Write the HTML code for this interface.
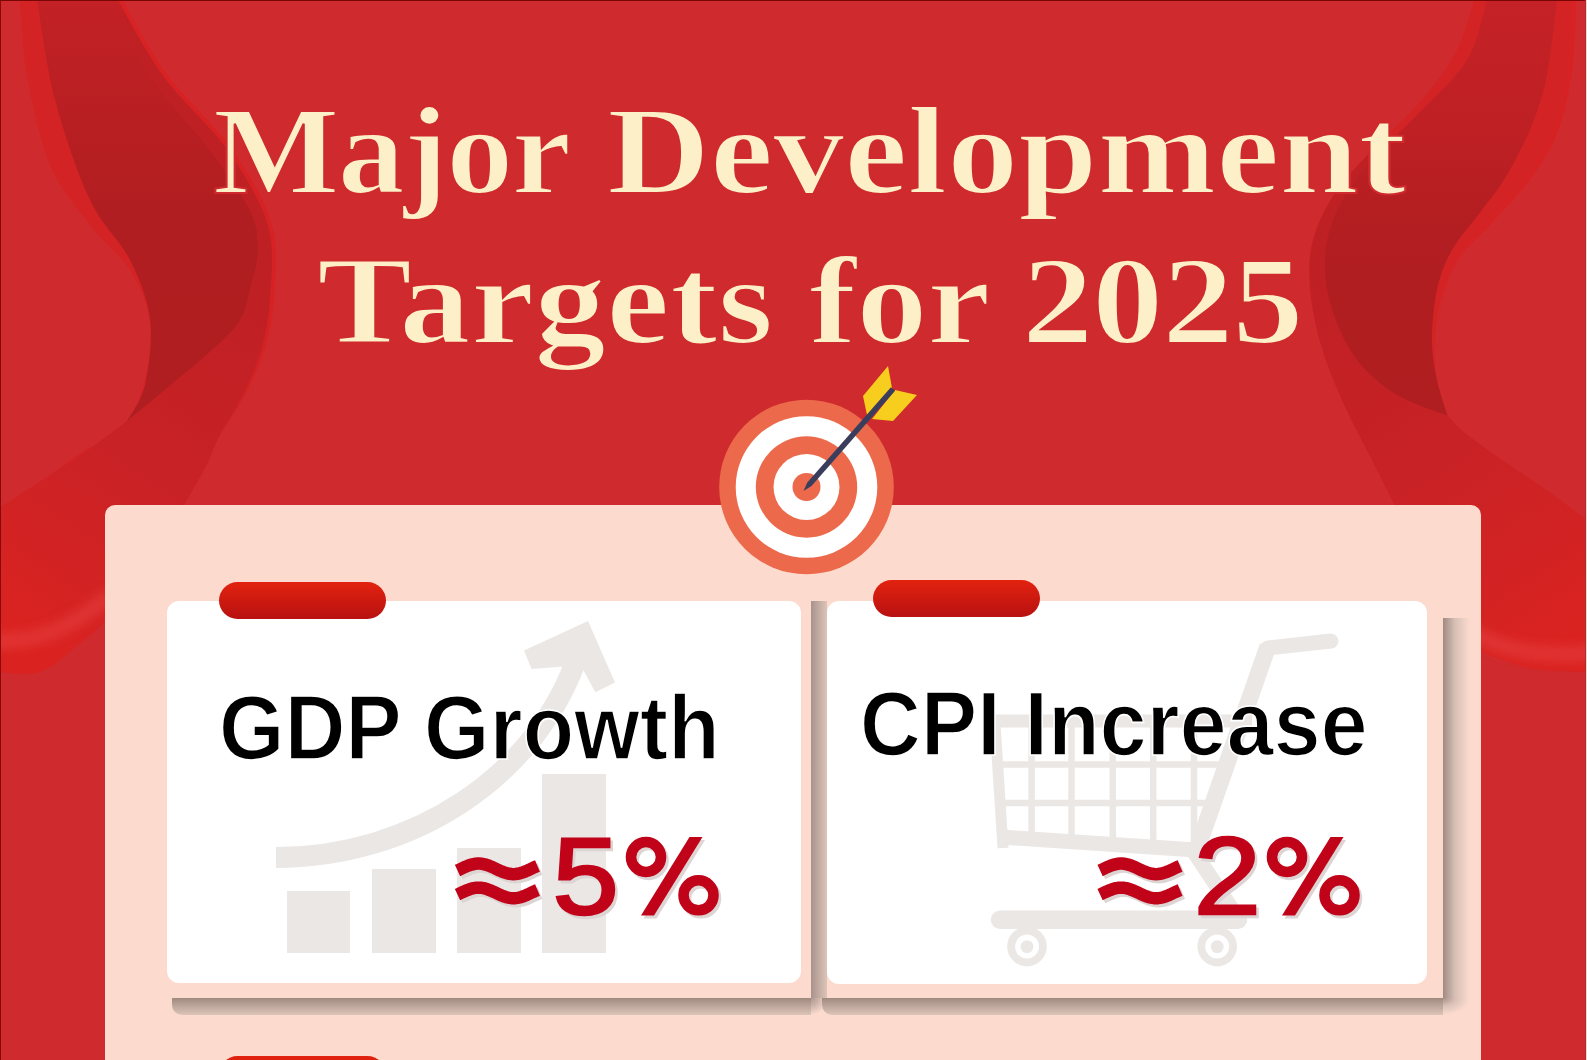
<!DOCTYPE html>
<html><head><meta charset="utf-8">
<style>
*{margin:0;padding:0;box-sizing:border-box}
html,body{width:1587px;height:1060px;overflow:hidden;background:#cf2a2d}
body{position:relative;font-family:"Liberation Sans",sans-serif}
.abs{position:absolute}
#bg{position:absolute;left:0;top:0}
.title{position:absolute;transform-origin:0 0;-webkit-text-stroke:2.0px #cf2a2d;white-space:nowrap;font-family:"Liberation Serif",serif;font-weight:bold;color:#fdf0c8;font-size:124.0px;letter-spacing:9.2px;line-height:1}
#panel{left:105px;top:505px;width:1376px;height:600px;background:#fcdbce;border-radius:10px}
.card{background:#fff;border-radius:12px}
.pill{border-radius:19px;background:linear-gradient(#e2220f,#b81111)}
.rs{background:linear-gradient(to right,#a8938b,#dcc4b8)}
.rs2{background:linear-gradient(to right,#a08a82,#d8c0b6 45%,#fcdbce)}
.bs{background:linear-gradient(#a08a80,#dcc4b8)}
.head{position:absolute;white-space:nowrap;font-weight:bold;font-size:84px;color:#000;letter-spacing:0.3px;-webkit-text-stroke:1.5px #fff;transform:scaleY(1.07);transform-origin:0 0;line-height:1}
.val{position:absolute;white-space:nowrap;font-weight:bold;font-size:106px;color:#b5121b;line-height:1;text-shadow:3px 3px 0 #e3dada}
</style></head><body>
<svg id="bg" width="1587" height="1060" viewBox="0 0 1587 1060">
<defs>
<linearGradient id="dl" gradientUnits="userSpaceOnUse" x1="0" y1="0" x2="0" y2="420"><stop offset="0" stop-color="#c22125"/><stop offset="0.3" stop-color="#b81f22"/><stop offset="0.5" stop-color="#b11e21"/><stop offset="1" stop-color="#af1e20"/></linearGradient>
<linearGradient id="dr" gradientUnits="userSpaceOnUse" x1="0" y1="0" x2="0" y2="420"><stop offset="0" stop-color="#c42226"/><stop offset="0.3" stop-color="#bf2024"/><stop offset="0.55" stop-color="#b21e21"/><stop offset="1" stop-color="#af1e20"/></linearGradient>
<linearGradient id="cl" gradientUnits="userSpaceOnUse" x1="30" y1="640" x2="260" y2="300"><stop offset="0" stop-color="#da2321"/><stop offset="0.5" stop-color="#c92226"/><stop offset="1" stop-color="#bf2024"/></linearGradient>
<linearGradient id="crg" gradientUnits="userSpaceOnUse" x1="1330" y1="250" x2="1570" y2="640"><stop offset="0" stop-color="#bf2024"/><stop offset="0.5" stop-color="#c82226"/><stop offset="1" stop-color="#da2321"/></linearGradient>
<filter id="blur" x="-20%" y="-50%" width="140%" height="200%"><feGaussianBlur stdDeviation="5"/></filter>
<linearGradient id="edl" gradientUnits="userSpaceOnUse" x1="0" y1="0" x2="0" y2="440"><stop offset="0" stop-color="#d82224"/><stop offset="0.7" stop-color="#d62224"/><stop offset="1" stop-color="#d62224" stop-opacity="0"/></linearGradient>
<linearGradient id="edr" gradientUnits="userSpaceOnUse" x1="0" y1="0" x2="0" y2="330"><stop offset="0" stop-color="#d82224"/><stop offset="0.7" stop-color="#d62224"/><stop offset="1" stop-color="#d62224" stop-opacity="0"/></linearGradient>
</defs>
<path fill="#d42325" d="M20,0 C21.2,12.5 22.0,47.5 27.0,75.0 C32.0,102.5 39.5,140.0 50.0,165.0 C60.5,190.0 76.7,207.5 90.0,225.0 C103.3,242.5 120.0,254.2 130.0,270.0 C140.0,285.8 147.2,303.3 150.0,320.0 C152.8,336.7 150.0,354.2 147.0,370.0 C144.0,385.8 138.2,403.8 132.0,415.0 C125.8,426.2 118.8,430.5 110.0,437.0 C101.2,443.5 90.7,446.5 79.0,454.0 C67.3,461.5 53.2,473.0 40.0,482.0 C26.8,491.0 6.7,503.7 0.0,508.0 L0,672 C6.7,672.0 26.8,676.7 40.0,672.0 C53.2,667.3 68.2,652.7 79.0,644.0 C89.8,635.3 93.2,634.0 105.0,620.0 C116.8,606.0 136.5,579.7 150.0,560.0 C163.5,540.3 180.0,511.7 186.0,502.0 L186,502 C189.3,496.0 200.3,477.2 206.0,466.0 C211.7,454.8 213.5,447.2 220.0,435.0 C226.5,422.8 237.7,407.6 245.0,393.0 C252.3,378.4 259.1,363.2 263.6,347.7 C268.1,332.2 270.9,320.4 272.0,300.0 C273.1,279.6 277.0,250.0 270.0,225.0 C263.0,200.0 247.5,175.0 230.0,150.0 C212.5,125.0 183.3,100.0 165.0,75.0 C146.7,50.0 127.5,12.5 120.0,0.0 Z"/>
<path fill="url(#cl)" d="M117,0 C122.5,12.5 134.5,50.0 150.0,75.0 C165.5,100.0 193.3,127.5 210.0,150.0 C226.7,172.5 242.0,193.3 250.0,210.0 C258.0,226.7 258.0,236.7 258.0,250.0 C258.0,263.3 253.2,277.9 250.0,290.0 C246.8,302.1 245.8,312.1 238.7,322.8 C231.6,333.5 219.7,343.0 207.6,354.0 C195.5,365.0 179.4,377.8 166.0,389.0 C152.6,400.2 133.5,415.7 127.0,421.0 L127,421 C119.7,426.4 97.2,443.7 83.0,453.6 C68.8,463.5 55.3,471.6 41.5,480.6 C27.7,489.6 6.9,503.1 0.0,507.6 L0,672 C6.7,672.0 26.8,676.7 40.0,672.0 C53.2,667.3 68.2,652.7 79.0,644.0 C89.8,635.3 93.2,634.0 105.0,620.0 C116.8,606.0 136.5,579.7 150.0,560.0 C163.5,540.3 180.0,511.7 186.0,502.0 L186,502 C189.3,496.0 200.3,477.2 206.0,466.0 C211.7,454.8 213.5,447.2 220.0,435.0 C226.5,422.8 237.7,407.6 245.0,393.0 C252.3,378.4 259.1,363.2 263.6,347.7 C268.1,332.2 270.9,320.4 272.0,300.0 C273.1,279.6 277.0,250.0 270.0,225.0 C263.0,200.0 247.5,175.0 230.0,150.0 C212.5,125.0 183.3,100.0 165.0,75.0 C146.7,50.0 127.5,12.5 120.0,0.0 Z"/>
<path fill="url(#dl)" d="M37,0 C40.0,16.7 46.2,66.7 55.0,100.0 C63.8,133.3 77.5,173.3 90.0,200.0 C102.5,226.7 120.0,240.0 130.0,260.0 C140.0,280.0 147.5,299.2 150.0,320.0 C152.5,340.8 148.8,368.2 145.0,385.0 C141.2,401.8 130.0,415.0 127.0,421.0 L127,421 C133.5,415.7 152.6,400.2 166.0,389.0 C179.4,377.8 195.5,365.0 207.6,354.0 C219.7,343.0 231.6,333.5 238.7,322.8 C245.8,312.1 246.8,302.1 250.0,290.0 C253.2,277.9 258.0,263.3 258.0,250.0 C258.0,236.7 258.0,226.7 250.0,210.0 C242.0,193.3 226.7,172.5 210.0,150.0 C193.3,127.5 165.5,100.0 150.0,75.0 C134.5,50.0 122.5,12.5 117.0,0.0 Z"/>
<path fill="#d42325" d="M1474.5,0 C1471.6,8.3 1465.8,33.3 1457.0,50.0 C1448.2,66.7 1435.3,84.2 1422.0,100.0 C1408.7,115.8 1391.2,130.0 1377.0,145.0 C1362.8,160.0 1347.4,175.0 1337.0,190.0 C1326.6,205.0 1319.1,220.0 1314.5,235.0 C1309.9,250.0 1308.7,262.5 1309.5,280.0 C1310.3,297.5 1314.1,320.0 1319.5,340.0 C1324.9,360.0 1333.2,380.0 1342.0,400.0 C1350.8,420.0 1362.8,441.7 1372.0,460.0 C1381.2,478.3 1389.0,493.3 1397.0,510.0 C1405.0,526.7 1416.2,551.7 1420.0,560.0 L1481,652 C1489.2,654.7 1512.3,664.7 1530.0,668.0 C1547.7,671.3 1577.5,671.3 1587.0,672.0 L1587,520 C1579.4,514.5 1555.5,496.6 1541.6,486.8 C1527.7,477.0 1516.3,470.0 1503.5,461.0 C1490.7,452.0 1474.3,440.6 1465.0,433.0 C1455.7,425.4 1450.3,418.4 1447.4,415.5 L1447.4,415.5 C1445.7,409.6 1439.1,392.6 1437.0,380.0 C1434.9,367.4 1434.2,354.2 1435.0,340.0 C1435.8,325.8 1437.9,309.2 1442.0,295.0 C1446.1,280.8 1451.2,267.5 1459.5,255.0 C1467.8,242.5 1480.8,232.5 1492.0,220.0 C1503.2,207.5 1516.6,194.2 1527.0,180.0 C1537.4,165.8 1547.4,152.5 1554.5,135.0 C1561.6,117.5 1566.2,97.5 1569.5,75.0 C1572.8,52.5 1573.7,12.5 1574.5,0.0 Z"/>
<path fill="url(#crg)" d="M1377,145 C1370.3,152.5 1347.4,175.0 1337.0,190.0 C1326.6,205.0 1319.1,220.0 1314.5,235.0 C1309.9,250.0 1308.7,262.5 1309.5,280.0 C1310.3,297.5 1314.1,320.0 1319.5,340.0 C1324.9,360.0 1333.2,380.0 1342.0,400.0 C1350.8,420.0 1362.8,441.7 1372.0,460.0 C1381.2,478.3 1389.0,493.3 1397.0,510.0 C1405.0,526.7 1416.2,551.7 1420.0,560.0 L1481,652 C1489.2,654.7 1512.3,664.7 1530.0,668.0 C1547.7,671.3 1577.5,671.3 1587.0,672.0 L1587,520 C1579.4,514.5 1555.5,496.6 1541.6,486.8 C1527.7,477.0 1516.3,470.0 1503.5,461.0 C1490.7,452.0 1474.3,440.6 1465.0,433.0 C1455.7,425.4 1450.3,418.4 1447.4,415.5 L1447.4,415.5 C1439.0,412.1 1412.1,404.2 1397.0,395.0 C1381.9,385.8 1367.8,374.2 1357.0,360.0 C1346.2,345.8 1337.4,326.7 1332.0,310.0 C1326.6,293.3 1323.7,276.7 1324.5,260.0 C1325.3,243.3 1329.1,226.7 1337.0,210.0 C1344.9,193.3 1366.2,168.3 1372.0,160.0 Z"/>
<path fill="url(#dr)" d="M1487,0 C1483.7,10.0 1478.7,40.8 1467.0,60.0 C1455.3,79.2 1432.8,98.3 1417.0,115.0 C1401.2,131.7 1385.3,144.2 1372.0,160.0 C1358.7,175.8 1344.9,193.3 1337.0,210.0 C1329.1,226.7 1325.3,243.3 1324.5,260.0 C1323.7,276.7 1326.6,293.3 1332.0,310.0 C1337.4,326.7 1346.2,345.8 1357.0,360.0 C1367.8,374.2 1381.9,385.8 1397.0,395.0 C1412.1,404.2 1439.0,412.1 1447.4,415.5 L1447.4,415.5 C1445.7,409.6 1439.6,392.6 1437.0,380.0 C1434.4,367.4 1432.0,355.0 1432.0,340.0 C1432.0,325.0 1433.7,305.0 1437.0,290.0 C1440.3,275.0 1444.5,263.3 1452.0,250.0 C1459.5,236.7 1472.8,222.5 1482.0,210.0 C1491.2,197.5 1498.7,189.2 1507.0,175.0 C1515.3,160.8 1525.3,141.7 1532.0,125.0 C1538.7,108.3 1542.8,95.8 1547.0,75.0 C1551.2,54.2 1555.3,12.5 1557.0,0.0 Z"/>
<g filter="url(#blur)" opacity="0.55"><path d="M1460,625 C1500,652 1540,658 1600,652" fill="none" stroke="#e64040" stroke-width="16"/><path d="M-10,640 C30,645 70,630 110,595" fill="none" stroke="#e64040" stroke-width="16"/></g>
<path d="M120,0 C127.5,12.5 146.7,50.0 165.0,75.0 C183.3,100.0 212.5,125.0 230.0,150.0 C247.5,175.0 263.0,200.0 270.0,225.0 C277.0,250.0 273.1,279.6 272.0,300.0 C270.9,320.4 268.1,332.2 263.6,347.7 C259.1,363.2 252.3,378.4 245.0,393.0 C237.7,407.6 224.2,428.0 220.0,435.0" fill="none" stroke="url(#edl)" stroke-width="4"/>
<path d="M1574.5,0 C1573.7,12.5 1572.8,52.5 1569.5,75.0 C1566.2,97.5 1561.6,117.5 1554.5,135.0 C1547.4,152.5 1537.4,165.8 1527.0,180.0 C1516.6,194.2 1503.2,207.5 1492.0,220.0 C1480.8,232.5 1467.8,242.5 1459.5,255.0 C1451.2,267.5 1446.1,280.8 1442.0,295.0 C1437.9,309.2 1436.2,332.5 1435.0,340.0" fill="none" stroke="url(#edr)" stroke-width="4"/>
<rect x="0" y="0" width="1587" height="1" fill="#7a0505"/>
<rect x="0" y="0" width="1" height="1060" fill="#8a0808"/>
<rect x="1585" y="0" width="1" height="1060" fill="#a83030"/>
<rect x="1586" y="0" width="1" height="1060" fill="#fcd8d0"/>
</svg>
<div class="title" style="top:90px;left:213.2px;letter-spacing:-1.43px;transform:scaleX(1.08)">Major</div>
<div class="title" style="top:90px;left:606.5px;letter-spacing:-0.08px;transform:scaleX(1.15)">Development</div>
<div class="title" style="top:240px;left:316.6px;letter-spacing:0.29px;transform:scaleX(1.15)">Targets</div>
<div class="title" style="top:240px;left:809.3px;letter-spacing:-0.24px;transform:scaleX(1.15)">for</div>
<div class="title" style="top:240px;left:1022.4px;letter-spacing:-1.07px;transform:scaleX(1.15)">2025</div>
<div class="abs" id="panel"></div>
<div class="abs rs" style="left:811px;top:601px;width:16px;height:397px"></div>
<div class="abs bs" style="left:172px;top:998px;width:639px;height:17px;border-bottom-left-radius:10px"></div>
<div class="abs rs2" style="left:1443px;top:618px;width:27px;height:380px"></div>
<div class="abs bs" style="left:822px;top:998px;width:621px;height:17px;border-bottom-left-radius:10px"></div>
<div class="abs" style="left:811px;top:998px;width:11px;height:17px;background:radial-gradient(circle at 0 0,#ad978e 0,#cdb5ab 8px,#fcdbce 17px)"></div>
<div class="abs" style="left:1443px;top:998px;width:28px;height:17px;background:radial-gradient(ellipse 27px 17px at 0 0,#a89088 0,#d8c0b6 45%,#fcdbce 100%)"></div>
<div class="abs pill" style="left:219px;top:1056px;width:167px;height:37px"></div>
<svg class="abs" style="left:0;top:0" width="1587" height="1060" viewBox="0 0 1587 1060">
<circle cx="806.5" cy="487" r="87.3" fill="#ec6a4b"/>
<circle cx="806.5" cy="487" r="70.8" fill="#fff"/>
<circle cx="806.5" cy="487" r="50.7" fill="#ec6a4b"/>
<circle cx="806.5" cy="487" r="33" fill="#fff"/>
<circle cx="806.5" cy="487" r="14" fill="#ec6a4b"/>
<polygon points="888,366 892,388 867,415 863,396" fill="#f7ce1e"/>
<polygon points="895,390 917,395 893,421 872,419" fill="#f7ce1e"/>
<polygon points="895.1,390.8 890.9,387.2 807.3,482.4 803.5,491.0 811.5,486.1" fill="#3b3d5c"/>
</svg>
<div class="abs card" style="left:167px;top:601px;width:634px;height:382px"></div>
<div class="abs card" style="left:827px;top:601px;width:600px;height:383px"></div>
<div class="abs pill" style="left:219px;top:582px;width:167px;height:37px"></div>
<div class="abs pill" style="left:873px;top:580px;width:167px;height:37px"></div>
<svg class="abs" style="left:0;top:0" width="1587" height="1060" viewBox="0 0 1587 1060">
<g fill="#ebe7e5">
<rect x="287" y="891" width="63" height="62"/>
<rect x="372" y="869" width="64" height="84"/>
<rect x="457" y="848" width="64" height="105"/>
<rect x="542" y="774" width="64" height="179"/>
<polygon points="524,650.5 588,621 615,682.4 595.4,692.2 580.7,665.2 531.6,669"/>
</g>
<path d="M276,857.5 C410,857.5 537,779 579,652" fill="none" stroke="#ebe7e5" stroke-width="21"/>
<g fill="none" stroke="#ebe7e5">
<path d="M1331,641 L1268,648" stroke-width="15" stroke-linecap="round"/>
<path d="M1268,646 L1196,852" stroke-width="17"/>
<path d="M1190,846 L1240,921" stroke-width="15"/>
<path d="M992,721 L1252,721" stroke-width="13"/>
<path d="M994.5,715 L1003,848" stroke-width="11"/>
<path d="M1000,837 L1196,850" stroke-width="15"/>
<path d="M1031.6,721 V843 M1071.5,721 V845 M1112.8,721 V848 M1153.2,721 V850 M1194,721 V852" stroke-width="6.5"/>
<path d="M996,764.5 H1232 M998,803 H1218" stroke-width="6.5"/>
<path d="M1000,919.8 H1238" stroke-width="18.5" stroke-linecap="round"/>
<circle cx="1027" cy="946.6" r="15.9" stroke-width="7.8"/>
<circle cx="1217.2" cy="946.6" r="15.9" stroke-width="7.8"/>
</g>
<g fill="#ebe7e5"><circle cx="1027" cy="946.6" r="6.4"/><circle cx="1217.2" cy="946.6" r="6.4"/></g>
</svg>
<div class="head" style="left:219px;top:683px">GDP Growth</div>
<div class="head" style="left:860px;top:679px">CPI Increase</div>
<svg id="vals" class="abs" style="left:0;top:0" width="1587" height="1060" viewBox="0 0 1587 1060"><g transform="translate(2.5,3)" opacity="1"><g fill="#ddd4d4" stroke="#ddd4d4"><path d="M457.50,870.49 L459.50,869.56 L461.50,868.61 L463.50,867.67 L465.50,866.77 L467.50,865.93 L469.50,865.19 L471.50,864.56 L473.50,864.07 L475.50,863.74 L477.50,863.57 L479.50,863.57 L481.50,863.74 L483.50,864.07 L485.50,864.56 L487.50,865.19 L489.50,865.93 L491.50,866.77 L493.50,867.67 L495.50,868.61 L497.50,869.56 L499.50,870.49 L501.50,871.36 L503.50,872.15 L505.50,872.84 L507.50,873.40 L509.50,873.81 L511.50,874.06 L513.50,874.15 L515.50,874.06 L517.50,873.81 L519.50,873.40 L521.50,872.84 L523.50,872.15 L525.50,871.36 L527.50,870.49 L529.50,869.56 L531.50,868.61 L533.50,867.67 L535.50,866.77 L537.50,865.93 M457.50,894.59 L459.50,893.66 L461.50,892.71 L463.50,891.77 L465.50,890.87 L467.50,890.03 L469.50,889.29 L471.50,888.66 L473.50,888.17 L475.50,887.84 L477.50,887.67 L479.50,887.67 L481.50,887.84 L483.50,888.17 L485.50,888.66 L487.50,889.29 L489.50,890.03 L491.50,890.87 L493.50,891.77 L495.50,892.71 L497.50,893.66 L499.50,894.59 L501.50,895.46 L503.50,896.25 L505.50,896.94 L507.50,897.50 L509.50,897.91 L511.50,898.16 L513.50,898.25 L515.50,898.16 L517.50,897.91 L519.50,897.50 L521.50,896.94 L523.50,896.25 L525.50,895.46 L527.50,894.59 L529.50,893.66 L531.50,892.71 L533.50,891.77 L535.50,890.87 L537.50,890.03" fill="none" stroke-width="12.5" stroke-linejoin="round"/><circle cx="646" cy="857" r="15" fill="none" stroke-width="10.6"/><circle cx="698.5" cy="895.3" r="15" fill="none" stroke-width="10.6"/><polygon points="689.5,837 702.5,837 654,915.5 641,915.5" stroke="none"/></g><g fill="#ddd4d4"><text transform="translate(552.53,914.30) scale(1.0939,1)" font-family="Liberation Sans" font-size="109" stroke="#ddd4d4" stroke-width="2.6">5</text></g><g fill="#ddd4d4" stroke="#ddd4d4"><path d="M1100.10,870.49 L1102.10,869.56 L1104.10,868.61 L1106.10,867.67 L1108.10,866.77 L1110.10,865.93 L1112.10,865.19 L1114.10,864.56 L1116.10,864.07 L1118.10,863.74 L1120.10,863.57 L1122.10,863.57 L1124.10,863.74 L1126.10,864.07 L1128.10,864.56 L1130.10,865.19 L1132.10,865.93 L1134.10,866.77 L1136.10,867.67 L1138.10,868.61 L1140.10,869.56 L1142.10,870.49 L1144.10,871.36 L1146.10,872.15 L1148.10,872.84 L1150.10,873.40 L1152.10,873.81 L1154.10,874.06 L1156.10,874.15 L1158.10,874.06 L1160.10,873.81 L1162.10,873.40 L1164.10,872.84 L1166.10,872.15 L1168.10,871.36 L1170.10,870.49 L1172.10,869.56 L1174.10,868.61 L1176.10,867.67 L1178.10,866.77 L1180.10,865.93 M1100.10,894.59 L1102.10,893.66 L1104.10,892.71 L1106.10,891.77 L1108.10,890.87 L1110.10,890.03 L1112.10,889.29 L1114.10,888.66 L1116.10,888.17 L1118.10,887.84 L1120.10,887.67 L1122.10,887.67 L1124.10,887.84 L1126.10,888.17 L1128.10,888.66 L1130.10,889.29 L1132.10,890.03 L1134.10,890.87 L1136.10,891.77 L1138.10,892.71 L1140.10,893.66 L1142.10,894.59 L1144.10,895.46 L1146.10,896.25 L1148.10,896.94 L1150.10,897.50 L1152.10,897.91 L1154.10,898.16 L1156.10,898.25 L1158.10,898.16 L1160.10,897.91 L1162.10,897.50 L1164.10,896.94 L1166.10,896.25 L1168.10,895.46 L1170.10,894.59 L1172.10,893.66 L1174.10,892.71 L1176.10,891.77 L1178.10,890.87 L1180.10,890.03" fill="none" stroke-width="12.5" stroke-linejoin="round"/><circle cx="1287" cy="857" r="15" fill="none" stroke-width="10.6"/><circle cx="1339.5" cy="895.3" r="15" fill="none" stroke-width="10.6"/><polygon points="1330.5,837 1343.5,837 1295,915.5 1282,915.5" stroke="none"/></g><g fill="#ddd4d4"><text transform="translate(1193.77,914.30) scale(1.1070,1)" font-family="Liberation Sans" font-size="109" stroke="#ddd4d4" stroke-width="2.6">2</text></g></g><g fill="#c1031a" stroke="#c1031a"><path d="M457.50,870.49 L459.50,869.56 L461.50,868.61 L463.50,867.67 L465.50,866.77 L467.50,865.93 L469.50,865.19 L471.50,864.56 L473.50,864.07 L475.50,863.74 L477.50,863.57 L479.50,863.57 L481.50,863.74 L483.50,864.07 L485.50,864.56 L487.50,865.19 L489.50,865.93 L491.50,866.77 L493.50,867.67 L495.50,868.61 L497.50,869.56 L499.50,870.49 L501.50,871.36 L503.50,872.15 L505.50,872.84 L507.50,873.40 L509.50,873.81 L511.50,874.06 L513.50,874.15 L515.50,874.06 L517.50,873.81 L519.50,873.40 L521.50,872.84 L523.50,872.15 L525.50,871.36 L527.50,870.49 L529.50,869.56 L531.50,868.61 L533.50,867.67 L535.50,866.77 L537.50,865.93 M457.50,894.59 L459.50,893.66 L461.50,892.71 L463.50,891.77 L465.50,890.87 L467.50,890.03 L469.50,889.29 L471.50,888.66 L473.50,888.17 L475.50,887.84 L477.50,887.67 L479.50,887.67 L481.50,887.84 L483.50,888.17 L485.50,888.66 L487.50,889.29 L489.50,890.03 L491.50,890.87 L493.50,891.77 L495.50,892.71 L497.50,893.66 L499.50,894.59 L501.50,895.46 L503.50,896.25 L505.50,896.94 L507.50,897.50 L509.50,897.91 L511.50,898.16 L513.50,898.25 L515.50,898.16 L517.50,897.91 L519.50,897.50 L521.50,896.94 L523.50,896.25 L525.50,895.46 L527.50,894.59 L529.50,893.66 L531.50,892.71 L533.50,891.77 L535.50,890.87 L537.50,890.03" fill="none" stroke-width="12.5" stroke-linejoin="round"/><circle cx="646" cy="857" r="15" fill="none" stroke-width="10.6"/><circle cx="698.5" cy="895.3" r="15" fill="none" stroke-width="10.6"/><polygon points="689.5,837 702.5,837 654,915.5 641,915.5" stroke="none"/></g><g fill="#c1031a"><text transform="translate(552.53,914.30) scale(1.0939,1)" font-family="Liberation Sans" font-size="109" stroke="#c1031a" stroke-width="2.6">5</text></g><g fill="#c1031a" stroke="#c1031a"><path d="M1100.10,870.49 L1102.10,869.56 L1104.10,868.61 L1106.10,867.67 L1108.10,866.77 L1110.10,865.93 L1112.10,865.19 L1114.10,864.56 L1116.10,864.07 L1118.10,863.74 L1120.10,863.57 L1122.10,863.57 L1124.10,863.74 L1126.10,864.07 L1128.10,864.56 L1130.10,865.19 L1132.10,865.93 L1134.10,866.77 L1136.10,867.67 L1138.10,868.61 L1140.10,869.56 L1142.10,870.49 L1144.10,871.36 L1146.10,872.15 L1148.10,872.84 L1150.10,873.40 L1152.10,873.81 L1154.10,874.06 L1156.10,874.15 L1158.10,874.06 L1160.10,873.81 L1162.10,873.40 L1164.10,872.84 L1166.10,872.15 L1168.10,871.36 L1170.10,870.49 L1172.10,869.56 L1174.10,868.61 L1176.10,867.67 L1178.10,866.77 L1180.10,865.93 M1100.10,894.59 L1102.10,893.66 L1104.10,892.71 L1106.10,891.77 L1108.10,890.87 L1110.10,890.03 L1112.10,889.29 L1114.10,888.66 L1116.10,888.17 L1118.10,887.84 L1120.10,887.67 L1122.10,887.67 L1124.10,887.84 L1126.10,888.17 L1128.10,888.66 L1130.10,889.29 L1132.10,890.03 L1134.10,890.87 L1136.10,891.77 L1138.10,892.71 L1140.10,893.66 L1142.10,894.59 L1144.10,895.46 L1146.10,896.25 L1148.10,896.94 L1150.10,897.50 L1152.10,897.91 L1154.10,898.16 L1156.10,898.25 L1158.10,898.16 L1160.10,897.91 L1162.10,897.50 L1164.10,896.94 L1166.10,896.25 L1168.10,895.46 L1170.10,894.59 L1172.10,893.66 L1174.10,892.71 L1176.10,891.77 L1178.10,890.87 L1180.10,890.03" fill="none" stroke-width="12.5" stroke-linejoin="round"/><circle cx="1287" cy="857" r="15" fill="none" stroke-width="10.6"/><circle cx="1339.5" cy="895.3" r="15" fill="none" stroke-width="10.6"/><polygon points="1330.5,837 1343.5,837 1295,915.5 1282,915.5" stroke="none"/></g><g fill="#c1031a"><text transform="translate(1193.77,914.30) scale(1.1070,1)" font-family="Liberation Sans" font-size="109" stroke="#c1031a" stroke-width="2.6">2</text></g></svg>
</body></html>
